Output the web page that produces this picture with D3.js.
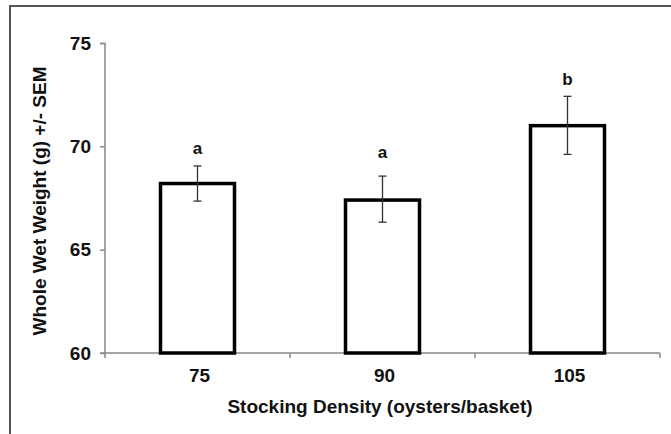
<!DOCTYPE html>
<html>
<head>
<meta charset="utf-8">
<script src="https://cdn.jsdelivr.net/npm/d3@7"></script>
<style>
  body { margin: 0; background: #fff; }
  svg text { font-family: "Liberation Sans", Arial, sans-serif; font-weight: bold; fill: #111; }
</style>
</head>
<body>
<svg id="chart" width="671" height="434"></svg>
<script>
// data
const densities = ["75", "90", "105"];
const meanWeight = [68.2, 67.4, 71.0];
const semLow = [67.35, 66.33, 69.61];
const semHigh = [69.05, 68.56, 72.42];
const letters = ["a", "a", "b"];
const letterPos = [69.9, 69.7, 73.25];
const yTicks = [60, 65, 70, 75];

const margin = {top: 43, right: 11, bottom: 81, left: 105};
const width = 671 - margin.left - margin.right;
const height = 434 - margin.top - margin.bottom;

const svgElement = d3.select("#chart");

// outer frame (top + left only, like the cropped screenshot)
svgElement.append("path")
  .attr("d", "M10,434 V6 H671")
  .attr("fill", "none")
  .attr("stroke", "#555")
  .attr("stroke-width", 2);

const svg = svgElement.append("g")
  .attr("transform", `translate(${margin.left},${margin.top})`);

const xScale = d3.scaleBand().domain(densities).range([0, width]).paddingInner(0.6).paddingOuter(0.3);
const xAxisScale = d3.scaleBand().domain(densities).range([0, width]);
const yScale = d3.scaleLinear().domain([60, 75]).range([height, 0]);

// y axis
const yAxis = d3.axisLeft(yScale).tickValues(yTicks).tickSize(5).tickPadding(9);
const yAxisElement = svg.append("g").call(yAxis);
yAxisElement.select(".domain").attr("stroke", "#888").attr("stroke-width", 1.5).attr("d", `M-5,0.5H0V${height}`);
yAxisElement.selectAll(".tick line").attr("stroke", "#888").attr("stroke-width", 1.5);
yAxisElement.selectAll(".tick text").style("font-size", "19px").attr("fill", "#111");

// x axis: ticks at category boundaries
const boundaries = [0].concat(densities.map(d => xAxisScale(d) + xAxisScale.bandwidth()));
const xAxisElement = svg.append("g").attr("transform", `translate(0,${height})`);
xAxisElement.append("line")
  .attr("x1", -5).attr("x2", width)
  .attr("stroke", "#888").attr("stroke-width", 1.5);
xAxisElement.selectAll(".xtick").data(boundaries).join("line")
  .attr("class", "xtick")
  .attr("x1", d => d).attr("x2", d => d)
  .attr("y1", 0).attr("y2", 5)
  .attr("stroke", "#888").attr("stroke-width", 1.5);
xAxisElement.selectAll(".xlabel").data(densities).join("text")
  .attr("class", "xlabel")
  .attr("x", d => xAxisScale(d) + xAxisScale.bandwidth() / 2 + 2)
  .attr("y", 29)
  .attr("text-anchor", "middle")
  .style("font-size", "19px")
  .text(d => d);

// bars
svg.selectAll(".bar").data(densities).join("rect")
  .attr("class", "bar")
  .attr("x", d => xScale(d))
  .attr("y", (d, i) => yScale(meanWeight[i]))
  .attr("width", xScale.bandwidth())
  .attr("height", (d, i) => height - yScale(meanWeight[i]))
  .attr("fill", "#fff")
  .attr("stroke", "#000")
  .attr("stroke-width", 3.5);

// error bars
const cap = 4;
const errorGroup = svg.selectAll(".err").data(densities).join("g")
  .attr("class", "err")
  .attr("stroke", "#333")
  .attr("stroke-width", 1.3);
errorGroup.append("line")
  .attr("x1", d => xScale(d) + xScale.bandwidth() / 2)
  .attr("x2", d => xScale(d) + xScale.bandwidth() / 2)
  .attr("y1", (d, i) => yScale(semLow[i]))
  .attr("y2", (d, i) => yScale(semHigh[i]));
errorGroup.append("line")
  .attr("x1", d => xScale(d) + xScale.bandwidth() / 2 - cap)
  .attr("x2", d => xScale(d) + xScale.bandwidth() / 2 + cap)
  .attr("y1", (d, i) => yScale(semLow[i]))
  .attr("y2", (d, i) => yScale(semLow[i]));
errorGroup.append("line")
  .attr("x1", d => xScale(d) + xScale.bandwidth() / 2 - cap)
  .attr("x2", d => xScale(d) + xScale.bandwidth() / 2 + cap)
  .attr("y1", (d, i) => yScale(semHigh[i]))
  .attr("y2", (d, i) => yScale(semHigh[i]));

// significance letters
svg.selectAll(".letter").data(densities).join("text")
  .attr("class", "letter")
  .attr("x", d => xScale(d) + xScale.bandwidth() / 2)
  .attr("y", (d, i) => yScale(letterPos[i]))
  .attr("dy", "0.35em")
  .attr("text-anchor", "middle")
  .style("font-size", "17px")
  .text(d => letters[densities.indexOf(d)]);

// axis titles
svgElement.append("text")
  .attr("x", 380)
  .attr("y", 413)
  .attr("text-anchor", "middle")
  .style("font-size", "19px")
  .text("Stocking Density (oysters/basket)");

svgElement.append("text")
  .attr("transform", "translate(46,201) rotate(-90)")
  .attr("text-anchor", "middle")
  .style("font-size", "19px")
  .text("Whole Wet Weight (g) +/- SEM");
</script>
</body>
</html>
